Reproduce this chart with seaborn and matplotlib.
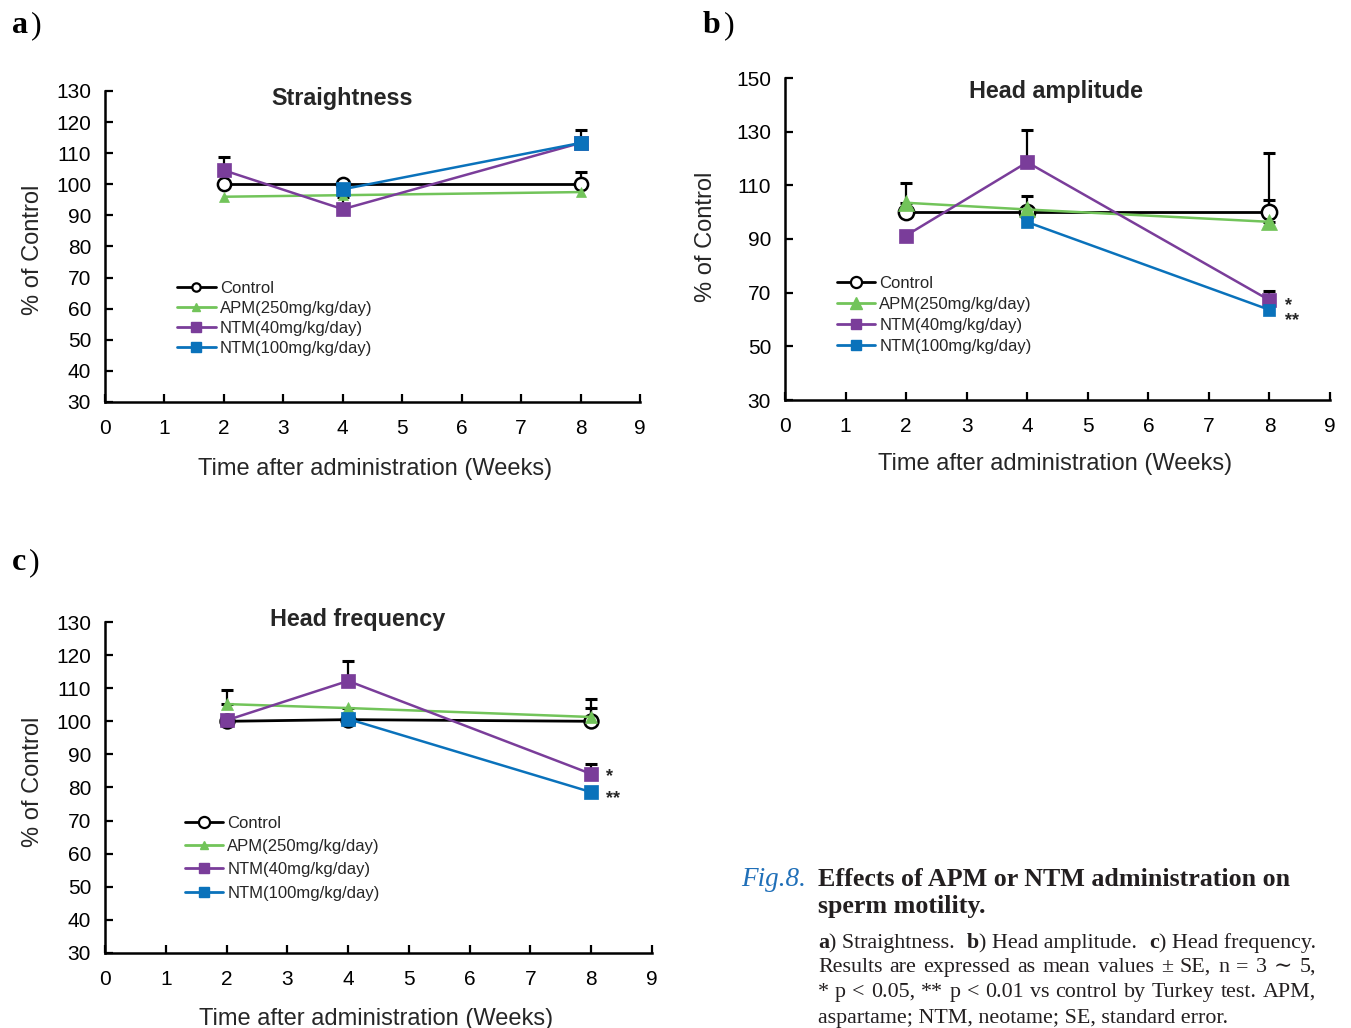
import numpy as np
import pandas as pd
import matplotlib
matplotlib.use("Agg")
import matplotlib.pyplot as plt
from matplotlib.lines import Line2D
import seaborn as sns

# ---------------- data ----------------
weeks = [2, 4, 8]
series_names = ["Control", "APM(250mg/kg/day)", "NTM(40mg/kg/day)", "NTM(100mg/kg/day)"]
x_ticks = [0, 1, 2, 3, 4, 5, 6, 7, 8, 9]

# a) Straightness
a_control = [100.0, 100.0, 100.0]
a_apm = [96.0, 96.5, 97.5]
a_ntm40 = [104.5, 92.0, 113.3]
a_ntm100 = [np.nan, 98.4, 113.3]
a_control_err = [0.0, 0.0, 4.0]
a_apm_err = [0.0, 0.0, 0.0]
a_ntm40_err = [4.2, 4.0, 0.0]
a_ntm100_err = [0.0, 0.0, 4.2]
a_yticks = [30, 40, 50, 60, 70, 80, 90, 100, 110, 120, 130]

# b) Head amplitude
b_control = [100.0, 100.0, 100.0]
b_apm = [103.5, 101.0, 96.4]
b_ntm40 = [91.3, 118.6, 67.2]
b_ntm100 = [np.nan, 96.3, 63.6]
b_control_err = [0.0, 6.0, 22.0]
b_apm_err = [7.5, 0.0, 8.3]
b_ntm40_err = [0.0, 12.0, 3.5]
b_ntm100_err = [0.0, 0.0, 0.0]
b_yticks = [30, 50, 70, 90, 110, 130, 150]

# c) Head frequency
c_control = [100.0, 100.5, 100.0]
c_apm = [105.2, 104.0, 101.3]
c_ntm40 = [100.3, 112.2, 84.1]
c_ntm100 = [np.nan, 100.7, 78.6]
c_control_err = [0.0, 3.5, 4.0]
c_apm_err = [4.3, 0.0, 5.3]
c_ntm40_err = [0.0, 6.0, 3.0]
c_ntm100_err = [0.0, 0.0, 0.0]
c_yticks = [30, 40, 50, 60, 70, 80, 90, 100, 110, 120, 130]

titles = ["Straightness", "Head amplitude", "Head frequency"]
panel_letters = ["a", "b", "c"]
x_label = "Time after administration (Weeks)"
y_label = "% of Control"

# ---------------- style ----------------
sns.set_style("ticks")
plt.rcParams["font.family"] = ["Liberation Sans", "DejaVu Sans"]

GREEN = "#72c45a"
PURPLE = "#7a3d9a"
BLUE = "#0a72bb"
colors = {"Control": "black", "APM(250mg/kg/day)": GREEN,
          "NTM(40mg/kg/day)": PURPLE, "NTM(100mg/kg/day)": BLUE}

W, H = 1351, 1028
fig = plt.figure(figsize=(W / 100, H / 100), dpi=100)

TICK_FS = 15
LAB_FS = 17
TITLE_FS = 16.8
LEG_FS = 12


def axes_px(left, top, right, bottom):
    return fig.add_axes([left / W, 1 - bottom / H, (right - left) / W, (bottom - top) / H])


def style_axes(ax, yticks):
    ax.set_xlim(0, 9)
    ax.set_ylim(yticks[0], yticks[-1])
    ax.set_xticks(x_ticks)
    ax.set_yticks(yticks)
    for s in ["top", "right"]:
        ax.spines[s].set_visible(False)
    for s in ["left", "bottom"]:
        ax.spines[s].set_linewidth(1.8)
        ax.spines[s].set_color("black")
    ax.tick_params(axis="both", direction="in", length=6, width=1.6, labelsize=TICK_FS, colors="black")
    ax.tick_params(axis="y", pad=10)
    ax.tick_params(axis="x", pad=12.5)
    ax.set_facecolor("none")


def draw_panel(ax, means, errs, msizes):
    kinds = {
        "Control": dict(marker="o", markerfacecolor="white", markeredgecolor="black",
                        markeredgewidth=1.8, linewidth=2.0, zorder=3),
        "APM(250mg/kg/day)": dict(marker="^", markerfacecolor=GREEN, markeredgecolor=GREEN,
                                  markeredgewidth=0.5, linewidth=1.8, zorder=4),
        "NTM(40mg/kg/day)": dict(marker="s", markerfacecolor=PURPLE, markeredgecolor=PURPLE,
                                 markeredgewidth=0.5, linewidth=1.8, zorder=5),
        "NTM(100mg/kg/day)": dict(marker="s", markerfacecolor=BLUE, markeredgecolor=BLUE,
                                  markeredgewidth=0.5, linewidth=1.8, zorder=6),
    }
    for name, vals, e in zip(series_names, means, errs):
        df = pd.DataFrame({"week": weeks, "value": vals}).dropna()
        sns.lineplot(data=df, x="week", y="value", ax=ax, color=colors[name],
                     errorbar=None, legend=False, markersize=msizes[name], **kinds[name])
        xs, ys, es = [], [], []
        for w, v, ee in zip(weeks, vals, e):
            if not np.isnan(v) and ee > 0:
                xs.append(w); ys.append(v); es.append(ee)
        if xs:
            ax.errorbar(xs, ys, yerr=[np.zeros(len(es)), es], fmt="none", ecolor="black",
                        elinewidth=1.6, capsize=4, capthick=2.2, zorder=2)
    ax.set_xlabel("")
    ax.set_ylabel("")


def add_legend(ax, anchor, msizes, spacing=0.45):
    handles = [
        Line2D([], [], color="black", lw=2, marker="o", markerfacecolor="white",
               markeredgecolor="black", markeredgewidth=1.6, markersize=msizes[0]),
        Line2D([], [], color=GREEN, lw=2, marker="^", markerfacecolor=GREEN,
               markeredgecolor=GREEN, markersize=msizes[1]),
        Line2D([], [], color=PURPLE, lw=2, marker="s", markerfacecolor=PURPLE,
               markeredgecolor=PURPLE, markersize=msizes[2]),
        Line2D([], [], color=BLUE, lw=2, marker="s", markerfacecolor=BLUE,
               markeredgecolor=BLUE, markersize=msizes[3]),
    ]
    ax.legend(handles, series_names, loc="upper left", bbox_to_anchor=anchor, frameon=False,
              fontsize=LEG_FS, handlelength=2.3, handletextpad=0.25, labelspacing=spacing,
              borderpad=0, borderaxespad=0)


def texts(ax, title, title_xy, ylab_xy, xlab_xy):
    ax.text(title_xy[0], title_xy[1], title, transform=ax.transAxes, ha="center",
            va="center", fontsize=TITLE_FS, fontweight="bold")
    ax.text(ylab_xy[0], ylab_xy[1], y_label, transform=ax.transAxes, rotation=90,
            ha="center", va="center", fontsize=LAB_FS)
    ax.text(xlab_xy[0], xlab_xy[1], x_label, transform=ax.transAxes, ha="center",
            va="center", fontsize=LAB_FS)


# ---------------- panel a ----------------
axA = axes_px(105, 91, 640, 402)
style_axes(axA, a_yticks)
draw_panel(axA, [a_control, a_apm, a_ntm40, a_ntm100],
           [a_control_err, a_apm_err, a_ntm40_err, a_ntm100_err],
           {"Control": 9.5, "APM(250mg/kg/day)": 7, "NTM(40mg/kg/day)": 10, "NTM(100mg/kg/day)": 10})
texts(axA, titles[0], (0.443, 0.975), (-0.135, 0.49), (0.505, -0.214))
add_legend(axA, (0.135, 0.39), [6, 5.5, 6.5, 6.5], spacing=0.3)

# ---------------- panel b ----------------
axB = axes_px(785, 78, 1330, 400)
style_axes(axB, b_yticks)
draw_panel(axB, [b_control, b_apm, b_ntm40, b_ntm100],
           [b_control_err, b_apm_err, b_ntm40_err, b_ntm100_err],
           {"Control": 11, "APM(250mg/kg/day)": 11, "NTM(40mg/kg/day)": 10.5, "NTM(100mg/kg/day)": 9})
texts(axB, titles[1], (0.497, 0.958), (-0.145, 0.506), (0.495, -0.2))
add_legend(axB, (0.095, 0.385), [8, 8.5, 7, 7], spacing=0.36)
axB.annotate("*", xy=(8, b_ntm40[2]), xytext=(11, -4), textcoords="offset points",
             ha="left", va="center", fontsize=13, fontweight="bold")
axB.annotate("**", xy=(8, b_ntm100[2]), xytext=(11, -8), textcoords="offset points",
             ha="left", va="center", fontsize=13, fontweight="bold")

# ---------------- panel c ----------------
axC = axes_px(105, 622, 652, 953)
style_axes(axC, c_yticks)
draw_panel(axC, [c_control, c_apm, c_ntm40, c_ntm100],
           [c_control_err, c_apm_err, c_ntm40_err, c_ntm100_err],
           {"Control": 10, "APM(250mg/kg/day)": 9, "NTM(40mg/kg/day)": 10.5, "NTM(100mg/kg/day)": 10.5})
texts(axC, titles[2], (0.4625, 1.009), (-0.132, 0.517), (0.495, -0.199))
add_legend(axC, (0.146, 0.415), [8, 6, 7, 7], spacing=0.5)
axC.annotate("*", xy=(8, c_ntm40[2]), xytext=(11, -2), textcoords="offset points",
             ha="left", va="center", fontsize=13, fontweight="bold")
axC.annotate("**", xy=(8, c_ntm100[2]), xytext=(11, -5), textcoords="offset points",
             ha="left", va="center", fontsize=13, fontweight="bold")

# ---------------- helpers for mixed-weight text ----------------
SERIF = ["Liberation Serif", "DejaVu Serif"]
renderer = fig.canvas.get_renderer()


def text_width(s, **kw):
    t = fig.text(0, 0, s, **kw)
    w = t.get_window_extent(renderer=renderer).width
    t.remove()
    return w


def draw_runs(x_px, y_px, runs, size, va="baseline", extra=0.0):
    x = x_px
    sp = text_width("x x", fontsize=size, family=SERIF) - text_width("xx", fontsize=size, family=SERIF)
    for txt, kw, gap in runs:
        t = fig.text(x / W, 1 - y_px / H, txt, ha="left", va=va, fontsize=size,
                     family=SERIF, **kw)
        x += t.get_window_extent(renderer=renderer).width
        if gap:
            x += sp + extra


def draw_justified(x_px, y_px, line, size, width_px, **kw):
    words = line.split(" ")
    widths = [text_width(w_, fontsize=size, family=SERIF, **kw) for w_ in words]
    gap = (width_px - sum(widths)) / max(len(words) - 1, 1)
    x = x_px
    for w_, wd in zip(words, widths):
        fig.text(x / W, 1 - y_px / H, w_, ha="left", va="baseline", fontsize=size,
                 family=SERIF, **kw)
        x += wd + gap


# ---------------- panel letters ----------------
for (px, py), letter in zip([(12, 33), (703, 33), (12, 570)], panel_letters):
    t = fig.text(px / W, 1 - py / H, letter, ha="left", va="baseline", fontsize=23,
                 fontweight="bold", color="black", family=SERIF)
    wpx = t.get_window_extent(renderer=renderer).width
    fig.text((px + wpx + 3) / W, 1 - py / H, ")", ha="left", va="baseline", fontsize=23,
             color="black", family=SERIF)

# ---------------- caption ----------------
cap_color = "#231f20"
fig.text(741 / W, 1 - 886 / H, "Fig.8.", ha="left", va="baseline", fontsize=19.5,
         style="italic", color="#1f6fb8", family=SERIF)
fig.text(818 / W, 1 - 886 / H, "Effects of APM or NTM administration on", ha="left",
         va="baseline", fontsize=18.7, fontweight="bold", color=cap_color, family=SERIF)
fig.text(818 / W, 1 - 913 / H, "sperm motility.", ha="left", va="baseline", fontsize=18.7,
         fontweight="bold", color=cap_color, family=SERIF)

BODY_FS = 15.8
B = dict(fontweight="bold", color=cap_color)
N = dict(color=cap_color)
runs1 = [("a", B, False), (") Straightness.", N, True),
         ("b", B, False), (") Head amplitude.", N, True),
         ("c", B, False), (") Head frequency.", N, False)]
natural = sum(text_width(t_, fontsize=BODY_FS, family=SERIF, **k_) for t_, k_, g_ in runs1)
sp0 = text_width("x x", fontsize=BODY_FS, family=SERIF) - text_width("xx", fontsize=BODY_FS, family=SERIF)
extra = max((498 - natural - 2 * sp0) / 2, 0)
draw_runs(818, 948, runs1, BODY_FS, extra=extra)
draw_justified(818, 972, "Results are expressed as mean values \u00b1 SE, n = 3 \u223c 5,",
               BODY_FS, 498, color=cap_color)
draw_justified(818, 997, "* p < 0.05, ** p < 0.01 vs control by Turkey test. APM,",
               BODY_FS, 498, color=cap_color)
fig.text(818 / W, 1 - 1023 / H, "aspartame; NTM, neotame; SE, standard error.",
         ha="left", va="baseline", fontsize=BODY_FS, color=cap_color, family=SERIF)

fig.savefig("out.png", dpi=100, facecolor="white")
